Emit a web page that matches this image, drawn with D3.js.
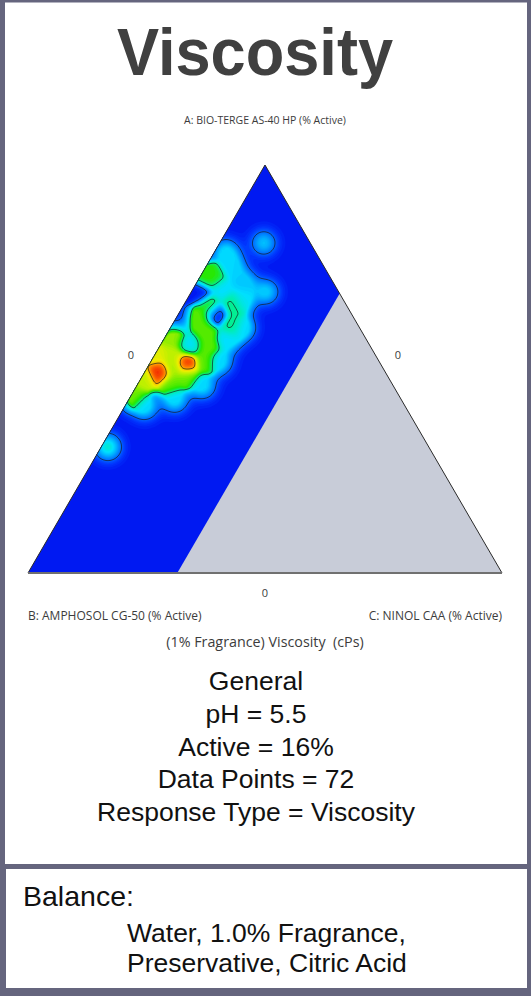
<!DOCTYPE html>
<html>
<head>
<meta charset="utf-8">
<script src="https://cdn.jsdelivr.net/npm/d3@7"></script>
<style>
  body { margin: 0; background: #fff; }
  svg { display: block; }
  text { font-family: "Liberation Sans", Arial, sans-serif; }
  .tern { font-family: "Open Sans", sans-serif; fill: #3c3c3c; white-space: pre; }
</style>
</head>
<body>
<svg id="chart" width="531" height="996"></svg>
<script>
// --- chart text ---
const title = 'Viscosity'
const axisNames = ['A: BIO-TERGE AS-40 HP (% Active)', 'B: AMPHOSOL CG-50 (% Active)', 'C: NINOL CAA (% Active)']
const axisTicks = ['0', '0', '0']
const responseLabel = '(1% Fragrance) Viscosity  (cPs)'
const infoLines = ['General', 'pH = 5.5', 'Active = 16%', 'Data Points = 72', 'Response Type = Viscosity']
const balanceTitle = 'Balance:'
const balanceLines = ['Water, 1.0% Fragrance,', 'Preservative, Citric Acid']

// --- design points (% of active blend) ---
const compA = [80.9, 78.7, 75.2, 71.3, 68.9, 66.9, 60.0, 57.1, 51.7, 45.8, 42.4, 40.7, 69.4,
  72.5, 72.8, 68.6, 65.4, 62.5, 59.1, 65.7, 60.8, 63.5, 55.9, 55.4, 57.6, 53.2, 53.2,
  49.0, 51.2, 50.2, 51.7, 48.3, 46.3, 47.3, 43.1, 30.9]
const compB = [9.8, 18.9, 19.4, 18.8, 15.3, 21.4, 24.7, 29.3, 33.7, 40.2, 47.8, 55.0, 24.4,
  26.0, 24.6, 29.4, 29.1, 32.5, 33.1, 23.9, 26.4, 28.6, 37.9, 34.3, 40.8, 46.4, 42.8,
  47.7, 40.9, 44.3, 36.8, 42.1, 46.9, 51.7, 55.9, 67.7]
const compC = [9.3, 2.4, 5.4, 9.9, 15.8, 11.7, 15.3, 13.6, 14.6, 14.0, 9.8, 4.3, 6.2,
  1.5, 2.6, 2.0, 5.5, 5.0, 7.8, 10.4, 12.8, 7.9, 6.2, 10.3, 1.6, 0.4, 4.0,
  3.3, 7.9, 5.5, 11.5, 9.6, 6.8, 1.0, 1.0, 1.4]
const viscosity = [2600, 3000, 3000, 2800, 2800, 3200, 3000, 3200, 3000, 3000, 3000, 3000, 3200,
  5600, 5400, 0, 6000, 6000, 6000, 4900, 4900, 0, 3300, 6000, 6500, 7400, 7000,
  10000, 10000, 6500, 6000, 6000, 6000, 7000, 6200, 3800]
const cLimit = 31.5 // highest C studied
const contourLevels = [1200, 4500, 8200]
const colorStops = [0, 600, 1200, 2200, 3200, 4500, 5500, 6800, 7600, 8600, 10000]
const colorRange = ['#0014f0', '#0038ff', '#0068ff', '#00a8ff', '#00e0ff', '#00f0a0', '#28e800', '#b0f000', '#f0ee00', '#ff8a00', '#f01800']

const svg = d3.select('#chart')
const border = '#65657e'

// frame
svg.append('rect').attr('x', 0).attr('y', 0).attr('width', 531).attr('height', 867).attr('fill', border)
svg.append('rect').attr('x', 5).attr('y', 2.5).attr('width', 522).attr('height', 862).attr('fill', '#fff')
svg.append('rect').attr('x', 0).attr('y', 864).attr('width', 531).attr('height', 132).attr('fill', border)
svg.append('rect').attr('x', 6).attr('y', 869).attr('width', 521).attr('height', 119).attr('fill', '#fff')

svg.append('text')
  .attr('x', 255).attr('y', 75)
  .attr('text-anchor', 'middle')
  .attr('font-size', 67).attr('font-weight', 'bold')
  .attr('fill', '#404040')
  .attr('textLength', 276).attr('lengthAdjust', 'spacingAndGlyphs')
  .text(title)

// ternary scales
const ay = d3.scaleLinear().domain([0, 100]).range([573, 165])
const ax = d3.scaleLinear().domain([0, 100]).range([0, 237])
const cx = d3.scaleLinear().domain([0, 100]).range([28, 502])
const pos = (a, c) => [cx(c) + ax(a), ay(a)]

const apex = pos(100, 0)
const left = pos(0, 0)
const right = pos(0, 100)
const line = d3.line()

const plot = svg.append('g')

// gray (not studied) triangle
plot.append('path')
  .attr('d', line([apex, left, right]) + 'Z')
  .attr('fill', '#c8ccd8')

// studied region: C <= cLimit
const region = [apex, pos(100 - cLimit, cLimit), pos(0, cLimit), left]
svg.append('clipPath').attr('id', 'studied')
  .append('path').attr('d', line(region) + 'Z')

// smoothed response surface from the design points
const pts = compA.map((a, i) => {
  const [x, y] = pos(a, compC[i])
  return { x, y, v: viscosity[i] }
})
const sigmaA = 6 // averaging kernel
const sigmaB = 9 // coverage kernel
const step = 2
const x0 = 18
const y0 = 158
const nx = Math.ceil((348 - x0) / step)
const ny = Math.ceil((582 - y0) / step)
const grid = new Float64Array(nx * ny)
for (let j = 0; j < ny; j++) {
  for (let i = 0; i < nx; i++) {
    const x = x0 + i * step
    const y = y0 + j * step
    let cov = 0
    let sw = 0
    let sv = 0
    for (const p of pts) {
      const d2 = (x - p.x) ** 2 + (y - p.y) ** 2
      cov += Math.exp(-d2 / (2 * sigmaB * sigmaB))
      const w = Math.exp(-d2 / (2 * sigmaA * sigmaA))
      sw += w
      sv += w * p.v
    }
    grid[j * nx + i] = (cov < 1e-6 || sw === 0) ? 0 : (sv / sw) * Math.min(1, cov)
  }
}

const color = d3.scaleLinear().domain(colorStops).range(colorRange).clamp(true)
const gridPath = d3.geoPath(d3.geoIdentity().scale(step).translate([x0 - step / 2, y0 - step / 2]))

const surface = plot.append('g').attr('clip-path', 'url(#studied)')
const bands = d3.range(0, 10000, 150)
surface.selectAll('path.band')
  .data(d3.contours().size([nx, ny]).thresholds(bands)(grid))
  .join('path')
  .attr('class', 'band')
  .attr('d', gridPath)
  .attr('fill', d => color(d.value + 75))

surface.selectAll('path.iso')
  .data(d3.contours().size([nx, ny]).thresholds(contourLevels)(grid))
  .join('path')
  .attr('class', 'iso')
  .attr('d', gridPath)
  .attr('fill', 'none')
  .attr('stroke', '#1a1a1a')
  .attr('stroke-opacity', 0.75)
  .attr('stroke-width', 0.9)

// triangle edges
plot.append('path').attr('d', line([left, apex, right]))
  .attr('fill', 'none').attr('stroke', '#2a2a2a').attr('stroke-width', 1)
plot.append('path').attr('d', line([left, right]))
  .attr('fill', 'none').attr('stroke', '#707070').attr('stroke-width', 2)

// axis labels
const tern = svg.append('g')
tern.append('text').attr('class', 'tern').attr('font-size', 10.5)
  .attr('x', apex[0]).attr('y', 124).attr('text-anchor', 'middle').text(axisNames[0])
tern.append('text').attr('class', 'tern').attr('font-size', 12)
  .attr('x', left[0]).attr('y', 620).text(axisNames[1])
tern.append('text').attr('class', 'tern').attr('font-size', 12)
  .attr('x', right[0]).attr('y', 620).attr('text-anchor', 'end').text(axisNames[2])
tern.append('text').attr('class', 'tern').attr('font-size', 11)
  .attr('x', 131).attr('y', 359).attr('text-anchor', 'middle').text(axisTicks[0])
tern.append('text').attr('class', 'tern').attr('font-size', 11)
  .attr('x', 398).attr('y', 359).attr('text-anchor', 'middle').text(axisTicks[2])
tern.append('text').attr('class', 'tern').attr('font-size', 11)
  .attr('x', apex[0]).attr('y', 597).attr('text-anchor', 'middle').text(axisTicks[1])
tern.append('text').attr('class', 'tern').attr('font-size', 14.3)
  .attr('x', apex[0]).attr('y', 647).attr('text-anchor', 'middle').text(responseLabel)

// info block
svg.append('g').selectAll('text')
  .data(infoLines)
  .join('text')
  .attr('x', 256)
  .attr('y', (d, i) => 690 + i * 32.75)
  .attr('text-anchor', 'middle')
  .attr('font-size', 26.5)
  .attr('fill', '#111')
  .text(d => d)

svg.append('text').attr('x', 23).attr('y', 906).attr('font-size', 28.5).attr('fill', '#111').text(balanceTitle)
svg.append('g').selectAll('text')
  .data(balanceLines)
  .join('text')
  .attr('x', 127)
  .attr('y', (d, i) => 942 + i * 30)
  .attr('font-size', 26.5)
  .attr('fill', '#111')
  .text(d => d)
</script>
</body>
</html>
